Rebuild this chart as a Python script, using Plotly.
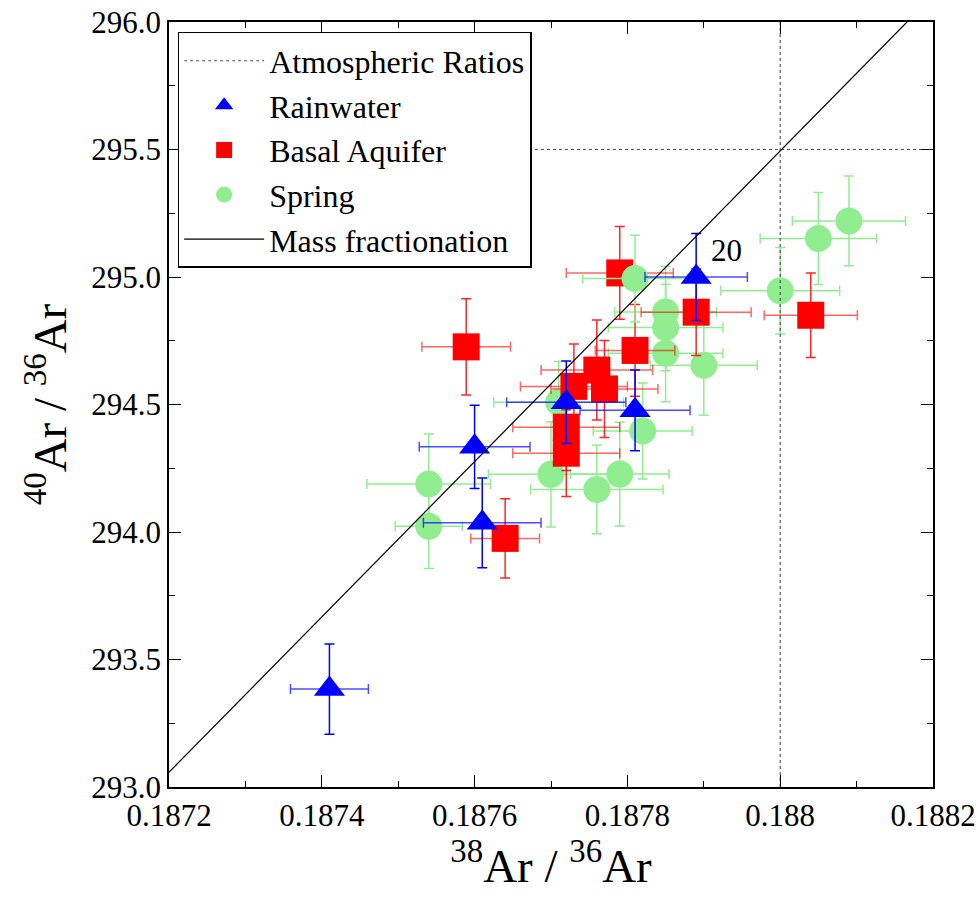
import plotly.graph_objects as go

# ---------------- data ----------------
rain_x = [0.18741, 0.18760, 0.18761, 0.18772, 0.18781, 0.18789]
rain_y = [293.384, 294.334, 294.036, 294.509, 294.477, 295.000]
rain_ex = [0.000051, 0.0000725, 0.000077, 0.000078, 0.000072, 0.000067]
rain_ey = [0.177, 0.163, 0.176, 0.162, 0.158, 0.171]

basal_x = [0.187589, 0.18779, 0.18789, 0.18804, 0.18781, 0.18776, 0.18777, 0.18773, 0.18772, 0.18772, 0.18764]
basal_y = [294.726, 295.016, 294.862, 294.850, 294.712, 294.635, 294.561, 294.571, 294.411, 294.309, 293.975]
basal_ex = [0.000058, 0.00007, 0.000072, 0.000061, 0.000052, 0.000073, 0.00007, 0.00007, 0.00007, 0.00007, 0.000045]
basal_ey = [0.189, 0.182, 0.17, 0.166, 0.18, 0.196, 0.19, 0.166, 0.17, 0.17, 0.155]

spring_x = [0.18754, 0.18754, 0.18770, 0.18779, 0.18776, 0.18782, 0.18785, 0.18785,
            0.18785, 0.18790, 0.18809, 0.18805, 0.18800, 0.18771]
spring_y = [294.188, 294.023, 294.226, 294.227, 294.167, 294.396, 294.863, 294.802,
            294.701, 294.654, 295.220, 295.151, 294.946, 294.509]
spring_ex = [0.000081, 0.000044, 0.000082, 0.0000645, 0.0000866, 0.0000647, 0.0000667, 0.000075,
             0.000075, 0.00007, 0.000074, 0.0000762, 0.0000777, 0.000085]
spring_ey = [0.196, 0.166, 0.206, 0.203, 0.174, 0.188, 0.178, 0.17,
             0.19, 0.196, 0.176, 0.18, 0.17, 0.16]

# spring sample drawn above the basal aquifer squares
spring_top_x = [0.18781]
spring_top_y = [294.994]
spring_top_ex = [0.0000683]
spring_top_ey = [0.17]

atm_x = [0.188, 0.188, None, 0.1872, 0.1882]
atm_y = [293.0, 296.0, None, 295.5, 295.5]

mass_x = [0.1872, 0.188166]
mass_y = [293.058, 296.0]

label_text = "20"
label_x = 0.18789
label_y = 295.000

x_ticks = [0.1872, 0.1874, 0.1876, 0.1878, 0.188, 0.1882]
y_ticks = [293.0, 293.5, 294.0, 294.5, 295.0, 295.5, 296.0]

FONT = "Liberation Serif, Times New Roman, serif"
GREEN = "#90ee90"

fig = go.Figure()

fig.add_trace(go.Scatter(
    x=spring_x, y=spring_y, mode="markers", name="Spring", legendrank=4,
    marker=dict(symbol="circle", size=27, color=GREEN),
    error_x=dict(type="data", array=spring_ex, color=GREEN, thickness=1.5, width=5),
    error_y=dict(type="data", array=spring_ey, color=GREEN, thickness=1.5, width=5),
))
fig.add_trace(go.Scatter(
    x=basal_x, y=basal_y, mode="markers", name="Basal Aquifer", legendrank=3,
    marker=dict(symbol="square", size=27, color="#ff0000"),
    error_x=dict(type="data", array=basal_ex, color="rgba(255,0,0,0.6)", thickness=1.5, width=5),
    error_y=dict(type="data", array=basal_ey, color="rgba(255,0,0,0.85)", thickness=1.5, width=5),
))
fig.add_trace(go.Scatter(
    x=spring_top_x, y=spring_top_y, mode="markers", name="Spring", showlegend=False,
    marker=dict(symbol="circle", size=27, color=GREEN),
    error_x=dict(type="data", array=spring_top_ex, color=GREEN, thickness=1.5, width=5),
    error_y=dict(type="data", array=spring_top_ey, color=GREEN, thickness=1.5, width=5),
))
fig.add_trace(go.Scatter(
    x=rain_x, y=rain_y, mode="markers", name="Rainwater", legendrank=2,
    marker=dict(symbol="triangle-up", size=27, color="#0000ff"),
    error_x=dict(type="data", array=rain_ex, color="rgba(0,0,255,0.7)", thickness=1.5, width=5),
    error_y=dict(type="data", array=rain_ey, color="#0000ff", thickness=1.5, width=5),
))
fig.add_trace(go.Scatter(
    x=atm_x, y=atm_y, mode="lines", name="Atmospheric Ratios", legendrank=1,
    line=dict(color="#555555", width=1.2, dash="dot"),
))
fig.add_trace(go.Scatter(
    x=mass_x, y=mass_y, mode="lines", name="Mass fractionation", legendrank=5,
    line=dict(color="black", width=1.2),
))

fig.add_annotation(x=label_x, y=label_y, text=label_text, showarrow=False,
                   xshift=30, yshift=27, font=dict(family=FONT, size=31, color="black"))

axis_common = dict(
    showgrid=False, zeroline=False, showline=True, linecolor="black", linewidth=1.5,
    mirror="allticks", ticks="inside", ticklen=12, tickwidth=1.2, tickcolor="black",
    tickfont=dict(family=FONT, size=31, color="black"), automargin=False,
)

fig.update_xaxes(
    range=[0.1872, 0.1882], tickvals=x_ticks, ticktext=[str(v) for v in x_ticks],
    minor=dict(ticks="inside", ticklen=6, dtick=0.0001, tickcolor="black", tickwidth=1.2),
    title=dict(text="<sup>38</sup>Ar / <sup>36</sup>Ar", font=dict(family=FONT, size=47, color="black"),
               standoff=6),
    **axis_common,
)
fig.update_yaxes(
    range=[293.0, 296.0], tickvals=y_ticks, ticktext=[f"{v:.1f}" for v in y_ticks],
    minor=dict(ticks="inside", ticklen=6, dtick=0.25, tickcolor="black", tickwidth=1.2),
    title=dict(text="<sup>40</sup>Ar / <sup>36</sup>Ar", font=dict(family=FONT, size=47, color="black"),
               standoff=10),
    **axis_common,
)

fig.update_layout(
    width=979, height=900,
    margin=dict(l=169, r=46, t=22, b=113),
    paper_bgcolor="white", plot_bgcolor="white",
    font=dict(family=FONT, color="black"),
    legend=dict(
        x=0.0113, y=0.987, xanchor="left", yanchor="top",
        bgcolor="white", bordercolor="black", borderwidth=1.5,
        font=dict(family=FONT, size=32, color="black"),
        itemwidth=80, tracegroupgap=0,
    ),
)

fig.write_html("out.html")
